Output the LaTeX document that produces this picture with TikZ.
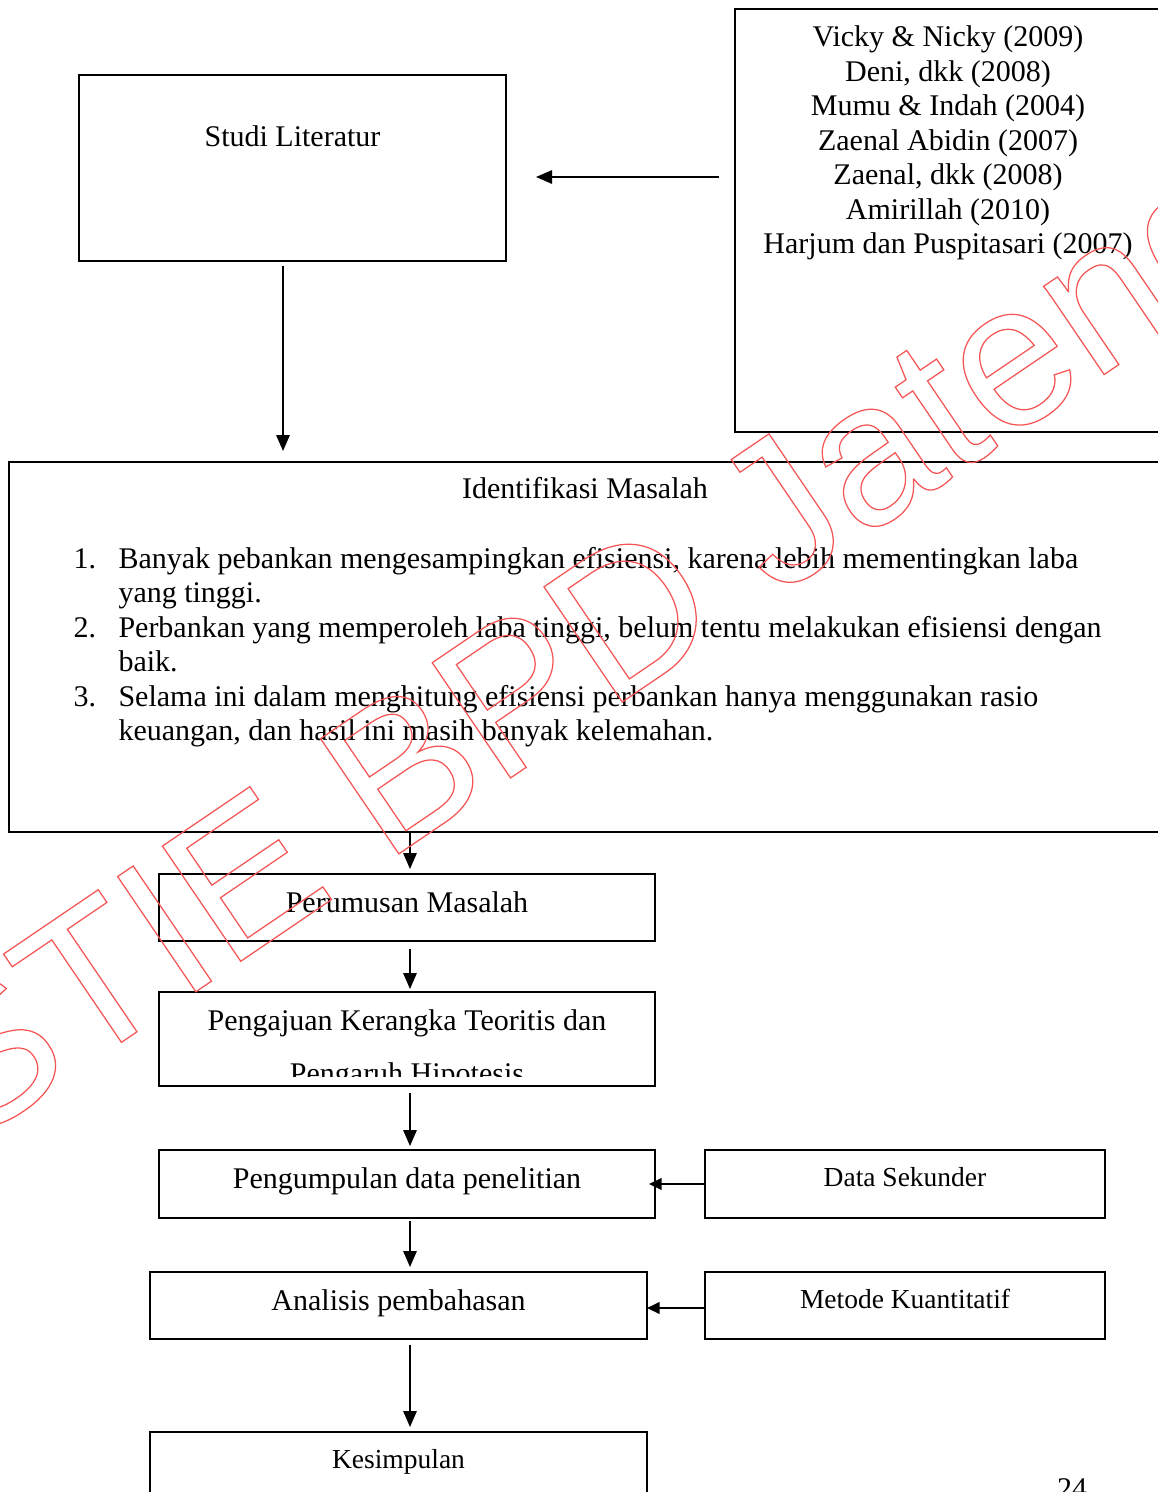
\documentclass[tikz,border=0pt]{standalone}
\usepackage{fontspec}
\setmainfont{Liberation Serif}
\newfontfamily\wmfont{Liberation Sans}
\usepackage{xcolor}
\usepackage{tikz}
\usetikzlibrary{
  arrows.meta,
  positioning,
  calc
}
\definecolor{wmred}{RGB}{245,85,85}
\newcommand{\outlinetext}[1]{\special{pdf:literal direct 1 Tr 0.5 w}#1\special{pdf:literal direct 0 Tr}}

\begin{document}
\begin{tikzpicture}[x=0.4pt,y=-0.4pt,
  box/.style    ={draw,line width=0.8pt,inner sep=0pt},
  flowbox/.style={box,minimum width=198.4pt,minimum height=26.8pt,
                  font=\fontsize{12}{13.8}\selectfont,text height=8pt,text depth=4.4pt},
  sidebox/.style={box,minimum width=160pt,minimum height=27pt,
                  font=\fontsize{11}{13}\selectfont,text height=7pt,text depth=5pt},
  txt/.style    ={inner sep=0pt,font=\fontsize{12}{13.8}\selectfont},
  arr/.style    ={-{Triangle[length=6.4pt,width=5.4pt]},line width=0.6pt},
  sidearr/.style={-{Triangle[length=5pt,width=4.6pt]},line width=0.8pt},
  wm/.style     ={inner sep=0pt,text=wmred,font=\wmfont\fontsize{81}{81}\selectfont},
]
\useasboundingbox (0,0) rectangle (1158,1492);
\clip (0,0) rectangle (1158,1492);

% upper part
\node[box,minimum width=170.8pt,minimum height=74.4pt] (studi) at (292.5,168) {};
\node[txt,anchor=base] (studitxt) at (292.5,147) {Studi Literatur};

\node[box,minimum width=170.4pt,minimum height=169.2pt] (refs) at (948,220.5) {};
\node[txt,anchor=north,align=center] (refstxt) at (948,25.5) {Vicky \& Nicky (2009)\\
  Deni, dkk (2008)\\
  Mumu \& Indah (2004)\\
  Zaenal Abidin (2007)\\
  Zaenal, dkk (2008)\\
  Amirillah (2010)\\
  Harjum dan Puspitasari (2007)};

\node[box,minimum width=460.8pt,minimum height=148pt] (ident) at (585,647) {};
\node[txt,anchor=base] (identtxt) at (585,498) {Identifikasi Masalah};
\node[txt,anchor=base west] (identlist) at (73,568) {%
  \begin{tabular}[t]{@{}p{18pt}@{}l@{}}
  1. & Banyak pebankan mengesampingkan efisiensi, karena lebih mementingkan laba\\
     & yang tinggi.\\
  2. & Perbankan yang memperoleh laba tinggi, belum tentu melakukan efisiensi dengan\\
     & baik.\\
  3. & Selama ini dalam menghitung efisiensi perbankan hanya menggunakan rasio\\
     & keuangan, dan hasil ini masih banyak kelemahan.
  \end{tabular}};

\draw[arr,shorten <=6pt,shorten >=11.6pt] (refs.west |- 0,177) -- (studi.east |- 0,177);
\draw[arr,shorten <=1.6pt,shorten >=4pt] (studi.south -| 283,0) -- (ident.north -| 283,0);

% lower chain
\coordinate (axis) at (410,0);
\node[flowbox] (rumusan) at (407,907.5) {Perumusan Masalah};
\node[box,minimum width=198.4pt,minimum height=37.6pt] (ajuan) at (407,1039) {};
\node[txt,anchor=base] (ajuantxt) at (407,1030) {Pengajuan Kerangka Teoritis dan};
\begin{scope}
  \clip (159,992) rectangle (655,1076);
  \node[txt,anchor=base] (ajuantxtb) at (407,1083) {Pengaruh Hipotesis};
\end{scope}
\node[flowbox,minimum height=27.2pt] (kumpul) at (407,1184) {Pengumpulan data penelitian};
\node[sidebox] (sekunder) at (905,1184) {Data Sekunder};
\node[flowbox,minimum width=198.8pt] (analisis) at (398.5,1305.5) {Analisis pembahasan};
\node[sidebox,minimum height=26.8pt] (metode) at (905,1305.5) {Metode Kuantitatif};
\node[sidebox,minimum width=198.8pt,minimum height=26.8pt] (simpul) at (398.5,1465.5) {Kesimpulan};

\draw[arr,shorten >=1.6pt] (axis |- ident.south) -- (axis |- rumusan.north);
\draw[arr,shorten <=2.8pt,shorten >=0.8pt] (axis |- rumusan.south) -- (axis |- ajuan.north);
\draw[arr,shorten <=2.4pt,shorten >=1.2pt] (axis |- ajuan.south) -- (axis |- kumpul.north);
\draw[arr,shorten <=0.8pt,shorten >=1.6pt] (axis |- kumpul.south) -- (axis |- analisis.north);
\draw[arr,shorten <=2pt,shorten >=1.6pt] (axis |- analisis.south) -- (axis |- simpul.north);
\draw[sidearr,shorten >=-2.8pt] (sekunder.west) -- (sekunder.west -| kumpul.east);
\draw[sidearr,shorten >=-0.4pt] (metode.west |- 0,1308) -- (analisis.east |- 0,1308);

\node[txt,anchor=base] (pagenum) at (1072,1498) {24};

% watermark
\node[wm,anchor=base west,rotate=34.2] (wmark) at (-34,1148) {\outlinetext{STIE BPD Jateng}};
\end{tikzpicture}
\end{document}
